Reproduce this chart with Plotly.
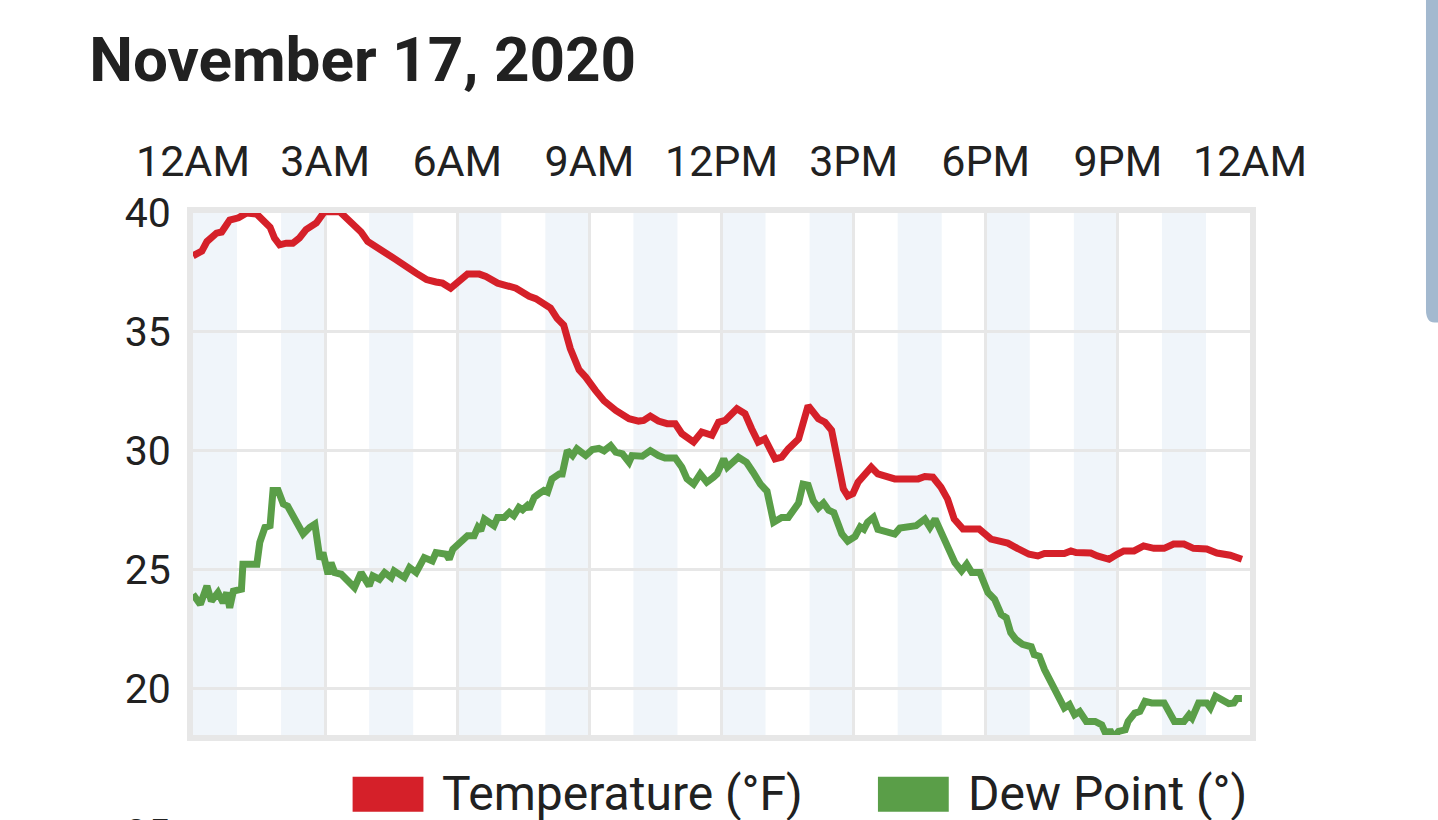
import plotly.graph_objects as go

DAY = "2020-11-17"

# temperature (time of day, deg F)
temp_times = ["00:00", "00:12", "00:19", "00:32", "00:39", "00:50", "01:02", "01:13", "01:27", "01:36",
              "01:45", "01:51", "01:58", "02:07", "02:16", "02:25", "02:34", "02:48", "02:59", "03:20",
              "03:29", "03:38", "03:49", "03:58", "04:14", "04:37", "05:04", "05:18", "05:31", "05:40",
              "05:51", "06:00", "06:14", "06:30", "06:39", "06:55", "07:11", "07:20", "07:38", "07:47",
              "08:07", "08:16", "08:25", "08:34", "08:46", "08:55", "09:08", "09:20", "09:36", "09:54",
              "10:07", "10:14", "10:23", "10:34", "10:46", "10:57", "11:06", "11:22", "11:33", "11:47",
              "11:56", "12:05", "12:21", "12:32", "12:41", "12:50", "12:59", "13:13", "13:22", "13:31",
              "13:45", "13:58", "14:12", "14:21", "14:30", "14:39", "14:46", "14:52", "14:59", "15:06",
              "15:24", "15:33", "15:56", "16:28", "16:37", "16:48", "16:59", "17:08", "17:17", "17:29",
              "17:51", "18:07", "18:30", "18:43", "18:59", "19:11", "19:20", "19:47", "19:56", "20:03",
              "20:23", "20:32", "20:48", "20:59", "21:08", "21:22", "21:35", "21:49", "22:03", "22:16",
              "22:30", "22:43", "23:01", "23:15", "23:33", "23:49"]
temp_values = [38.2, 38.4, 38.8, 39.15, 39.2, 39.7, 39.8, 40.0, 39.95, 39.65,
               39.4, 38.95, 38.66, 38.73, 38.73, 38.95, 39.3, 39.58, 40.05, 40.05,
               39.8, 39.5, 39.2, 38.8, 38.45, 38.03, 37.47, 37.2, 37.1, 37.05,
               36.84, 37.1, 37.43, 37.43, 37.33, 37.05, 36.95, 36.84, 36.5, 36.4,
               36.0, 35.57, 35.29, 34.3, 33.4, 33.1, 32.55, 32.1, 31.7, 31.35,
               31.25, 31.28, 31.46, 31.25, 31.14, 31.14, 30.72, 30.37, 30.79, 30.65,
               31.2, 31.28, 31.77, 31.56, 30.93, 30.37, 30.5, 29.66, 29.73, 30.08,
               30.5, 31.9, 31.35, 31.2, 30.86, 29.38, 28.4, 28.1, 28.2, 28.68,
               29.31, 29.03, 28.82, 28.82, 28.92, 28.89, 28.47, 27.97, 27.13, 26.71,
               26.71, 26.29, 26.12, 25.9, 25.65, 25.58, 25.68, 25.68, 25.79, 25.72,
               25.7, 25.58, 25.44, 25.65, 25.79, 25.79, 26.0, 25.9, 25.9, 26.08,
               26.08, 25.9, 25.87, 25.7, 25.61, 25.44]

# dew point
dew_times = ["00:00", "00:10", "00:19", "00:25", "00:34", "00:41", "00:46", "00:50", "00:55", "01:06",
             "01:08", "01:27", "01:31", "01:38", "01:45", "01:49", "01:56", "02:03", "02:09", "02:19",
             "02:30", "02:39", "02:46", "02:53", "02:57", "03:04", "03:08", "03:13", "03:22", "03:40",
             "03:49", "04:00", "04:05", "04:14", "04:21", "04:30", "04:34", "04:48", "04:55", "05:04",
             "05:15", "05:26", "05:31", "05:45", "05:49", "05:54", "06:09", "06:14", "06:23", "06:28",
             "06:32", "06:37", "06:50", "06:55", "07:04", "07:11", "07:17", "07:24", "07:29", "07:35",
             "07:38", "07:45", "07:51", "07:58", "08:03", "08:09", "08:19", "08:23", "08:30", "08:37",
             "08:43", "08:55", "09:04", "09:13", "09:20", "09:29", "09:36", "09:45", "09:54", "09:58",
             "10:12", "10:23", "10:34", "10:43", "10:57", "11:06", "11:13", "11:22", "11:31", "11:40",
             "11:49", "11:54", "12:03", "12:08", "12:23", "12:34", "12:43", "12:53", "13:02", "13:11",
             "13:22", "13:31", "13:38", "13:45", "13:51", "13:58", "14:05", "14:12", "14:19", "14:26",
             "14:33", "14:44", "14:52", "15:02", "15:09", "15:14", "15:19", "15:27", "15:33", "15:47",
             "15:56", "16:03", "16:25", "16:37", "16:44", "16:51", "17:00", "17:11", "17:18", "17:27",
             "17:34", "17:41", "17:52", "18:03", "18:12", "18:21", "18:28", "18:34", "18:41", "18:50",
             "19:02", "19:06", "19:13", "19:20", "19:34", "19:47", "19:54", "20:01", "20:08", "20:17",
             "20:29", "20:38", "20:45", "20:49", "20:54", "21:01", "21:10", "21:14", "21:23", "21:30",
             "21:37", "21:46", "22:03", "22:10", "22:17", "22:30", "22:37", "22:41", "22:50", "23:01",
             "23:06", "23:13", "23:22", "23:31", "23:38", "23:42", "23:49"]
dew_values = [23.97, 23.54, 24.32, 23.68, 24.04, 23.61, 24.04, 23.4, 24.1, 24.18,
              25.23, 25.23, 26.15, 26.78, 26.85, 28.33, 28.33, 27.76, 27.67, 27.06,
              26.5, 26.78, 26.92, 25.44, 25.72, 24.81, 25.3, 24.88, 24.81, 24.25,
              24.88, 24.32, 24.74, 24.6, 24.88, 24.67, 24.95, 24.67, 25.09, 24.88,
              25.51, 25.37, 25.72, 25.65, 25.44, 25.86, 26.22, 26.43, 26.43, 26.78,
              26.64, 27.13, 26.85, 27.2, 27.2, 27.41, 27.27, 27.62, 27.52, 27.69,
              27.55, 28.05, 28.19, 28.33, 28.26, 28.82, 29.03, 29.03, 30.01, 29.8,
              30.08, 29.8, 30.05, 30.1, 30.0, 30.22, 29.94, 29.87, 29.52, 29.8,
              29.77, 30.01, 29.8, 29.7, 29.7, 29.31, 28.82, 28.6, 29.03, 28.68,
              28.89, 29.03, 29.66, 29.31, 29.73, 29.52, 29.1, 28.6, 28.3, 27.0,
              27.2, 27.2, 27.5, 27.8, 28.6, 28.55, 27.9, 27.6, 27.8, 27.5,
              27.4, 26.5, 26.2, 26.4, 26.8, 26.7, 27.0, 27.2, 26.7, 26.6,
              26.5, 26.75, 26.85, 27.13, 26.78, 27.13, 26.57, 25.86, 25.3, 24.95,
              25.23, 24.88, 24.88, 24.04, 23.76, 23.12, 22.98, 22.35, 22.07, 21.86,
              21.76, 21.43, 21.36, 20.8, 19.96, 19.19, 19.33, 18.9, 19.04, 18.62,
              18.62, 18.48, 18.0, 18.27, 17.95, 18.2, 18.27, 18.62, 18.97, 19.04,
              19.47, 19.4, 19.4, 19.04, 18.62, 18.62, 18.9, 18.76, 19.4, 19.4,
              19.19, 19.68, 19.51, 19.37, 19.4, 19.58, 19.58]

tick_hours = [0, 3, 6, 9, 12, 15, 18, 21, 24]
tick_labels = ["12AM", "3AM", "6AM", "9AM", "12PM", "3PM", "6PM", "9PM", "12AM"]
band_hours = [0, 2, 4, 6, 8, 10, 12, 14, 16, 18, 20, 22]

RED = "#d52029"
GREEN = "#5a9e48"
FONT = "Roboto"
TEXT = "#212121"
GRID = "#e7e7e7"


def stamp(hour_min):
    return f"{DAY} {hour_min}"


def hour_stamp(h):
    if h >= 24:
        return "2020-11-18 00:00"
    return f"{DAY} {h:02d}:00"


fig = go.Figure()
fig.add_trace(go.Scatter(x=[stamp(t) for t in temp_times], y=temp_values, mode="lines",
                         name="Temperature (°F)", line=dict(color=RED, width=7), showlegend=False))
fig.add_trace(go.Scatter(x=[stamp(t) for t in dew_times], y=dew_values, mode="lines",
                         name="Dew Point (°)", line=dict(color=GREEN, width=7), showlegend=False))

# alternating hour bands
for h in band_hours:
    fig.add_shape(type="rect", xref="x", yref="paper", x0=hour_stamp(h), x1=hour_stamp(h + 1),
                  y0=0, y1=1, fillcolor="#f0f5fa", line_width=0, layer="below")

# legend drawn by hand (big square swatches)
legend_items = [("Temperature (°F)", RED, 0.151), ("Dew Point (°)", GREEN, 0.648)]
for label, color, x0 in legend_items:
    fig.add_shape(type="rect", xref="paper", yref="paper", x0=x0, x1=x0 + 0.067,
                  y0=-0.147, y1=-0.080, fillcolor=color, line_width=0)
    fig.add_annotation(text=label, xref="paper", yref="paper", x=x0 + 0.083, y=-0.113,
                       xanchor="left", yanchor="middle", showarrow=False,
                       font=dict(family=FONT, size=48, color=TEXT))

# cut-off tick of the next chart below
fig.add_annotation(text="25", xref="paper", yref="paper", x=-0.02, y=-0.142,
                   xanchor="right", yanchor="top", showarrow=False,
                   font=dict(family=FONT, size=40, color=TEXT))

# scroll handle on the right edge
fig.add_shape(type="path", xref="paper", yref="paper",
              path="M 1.1665 1.5 L 1.19 1.5 L 1.19 0.79 L 1.1745 0.79 Q 1.1665 0.79 1.1665 0.815 Z",
              fillcolor="#a3b9cf", line_width=0)

fig.update_layout(
    width=1438, height=820,
    margin=dict(l=193, r=188, t=213, b=85),
    paper_bgcolor="white", plot_bgcolor="white",
    title=dict(text="<b>November 17, 2020</b>", x=0.062, xanchor="left", y=0.954, yanchor="top",
               font=dict(family=FONT, size=62, color=TEXT)),
)
fig.update_xaxes(
    type="date", side="top",
    range=[hour_stamp(0), hour_stamp(24)],
    tickvals=[hour_stamp(h) for h in tick_hours], ticktext=tick_labels,
    tickfont=dict(family=FONT, size=43, color=TEXT),
    ticks="outside", ticklen=14, tickcolor="rgba(0,0,0,0)",
    showgrid=True, gridcolor=GRID, gridwidth=3,
    showline=True, linecolor=GRID, linewidth=6, mirror=True,
    zeroline=False, fixedrange=True,
)
fig.update_yaxes(
    range=[18.05, 40], tickvals=[20, 25, 30, 35, 40],
    tickfont=dict(family=FONT, size=41, color=TEXT),
    ticks="outside", ticklen=8, tickcolor="rgba(0,0,0,0)",
    showgrid=True, gridcolor=GRID, gridwidth=3,
    showline=True, linecolor=GRID, linewidth=6, mirror=True,
    zeroline=False, fixedrange=True,
)

# page margin off so the 1438x820 figure fills the window exactly
fig.write_html("out.html", config={"displayModeBar": False},
               post_script="document.body.style.margin='0';document.body.style.overflow='hidden';")
